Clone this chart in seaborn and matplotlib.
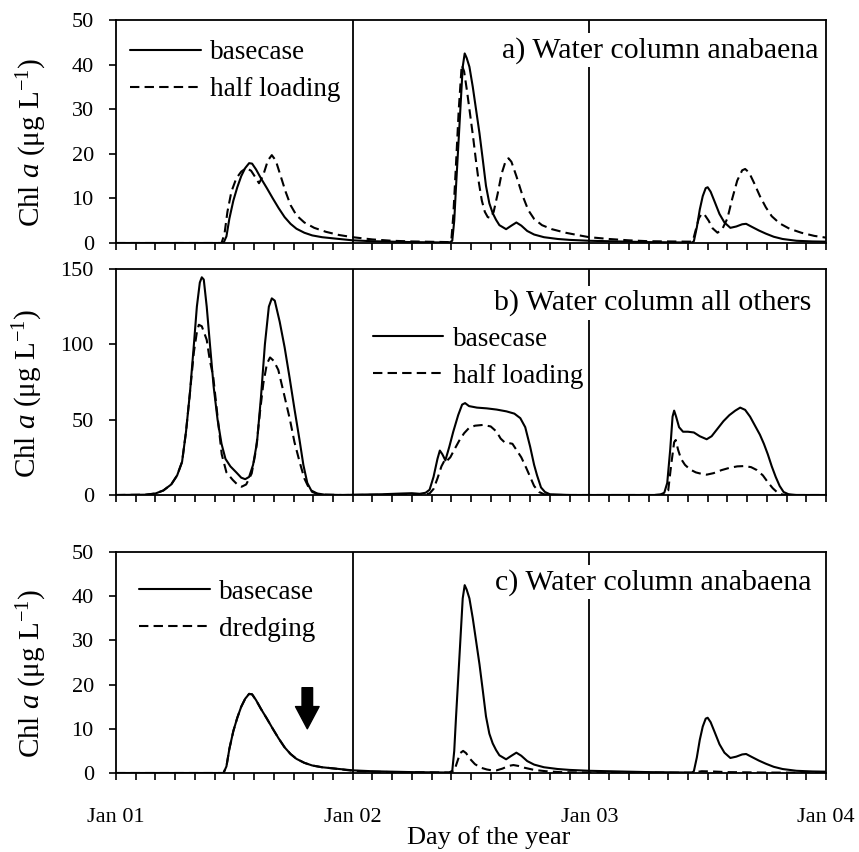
import matplotlib
matplotlib.use("Agg")
import matplotlib.pyplot as plt
import numpy as np
import pandas as pd
import seaborn as sns

# ---------------- data (x in months since Jan 01) ----------------
base_x = [0, 5.45, 5.6, 5.75, 5.95, 6.15, 6.35, 6.55, 6.75, 6.9, 7.1, 7.35, 7.65, 7.95, 8.25, 8.55,
          8.85, 9.15, 9.55, 9.95, 10.45, 11.1, 12.0, 13, 14, 15, 16.9,
          17.05, 17.15, 17.24, 17.41, 17.58, 17.68, 17.78, 17.92, 18.09, 18.26, 18.43, 18.6, 18.76,
          18.93, 19.1, 19.27, 19.44, 19.78, 20.05, 20.3, 20.55, 20.85, 21.2, 21.7, 22.4, 23, 24,
          25, 26, 27, 29.2,
          29.3, 29.45, 29.6, 29.75, 29.9, 30.0, 30.15, 30.35, 30.6, 30.85, 31.15, 31.45, 31.75, 31.95,
          32.25, 32.6, 32.95, 33.35, 33.8, 34.5, 35.3, 36]
base_y = [0, 0, 1.5, 5.5, 9.5, 12.5, 15, 16.8, 17.9, 17.8, 16.5, 14.5, 12.3, 10, 7.8, 5.8,
          4.3, 3.2, 2.3, 1.7, 1.3, 1.0, 0.6, 0.4, 0.3, 0.2, 0.1,
          0.5, 5, 12.6, 26, 39.5, 42.5, 41.5, 39.5, 35, 29.8, 24.6, 18.6, 12.8,
          8.9, 6.7, 5.2, 4.0, 3.1, 3.9, 4.6, 3.9, 2.7, 1.9, 1.3, 0.9, 0.7, 0.5,
          0.4, 0.3, 0.2, 0.1,
          0.4, 3.5, 7.5, 10.5, 12.3, 12.5, 11.5, 9.3, 6.5, 4.6, 3.4, 3.7, 4.2, 4.3,
          3.6, 2.8, 2.1, 1.4, 0.9, 0.5, 0.35, 0.3]

half_x = [0, 5.35, 5.5, 5.65, 5.85, 6.1, 6.35, 6.6, 6.85, 7.1, 7.25, 7.45, 7.7, 7.9, 8.1, 8.35,
          8.6, 8.85, 9.15, 9.55, 10.05, 10.65, 11.3, 12, 13, 14, 15, 16.9,
          17.0, 17.1, 17.22, 17.38, 17.53, 17.65, 17.8, 17.95, 18.1, 18.25, 18.4, 18.55, 18.7,
          18.85, 19.0, 19.15, 19.35, 19.55, 19.75, 19.9, 20.05, 20.3, 20.6, 20.9, 21.2, 21.6,
          22.1, 22.8, 23.5, 24, 25, 26, 27, 29.1,
          29.25, 29.4, 29.55, 29.7, 29.85, 30.05, 30.25, 30.5, 30.75, 31.0, 31.25, 31.5, 31.75, 31.9,
          32.1, 32.35, 32.65, 32.95, 33.25, 33.65, 34.15, 34.75, 35.4, 36]
half_y = [0, 0, 2, 7, 11.5, 14.5, 16, 16.8, 16.2, 14.5, 13.4, 15, 18.5, 19.7, 18.5, 15,
          11.5, 8.5, 6.2, 4.6, 3.4, 2.5, 1.8, 1.3, 0.8, 0.5, 0.35, 0.2,
          0.5, 6, 16, 30, 39.9, 38.5, 34, 29, 24, 18.5, 13.5, 9.5, 7,
          5.8, 5.6, 7, 11, 15.5, 18.3, 19, 18.2, 15, 10.8, 7.4, 5.4, 4,
          3.1, 2.3, 1.7, 1.3, 0.9, 0.6, 0.4, 0.3,
          0.5, 3, 5.5, 6.6, 6.3, 5, 3.3, 2.3, 3.2, 5.5, 10, 14, 16.3, 16.6,
          15.8, 13.5, 10.5, 8, 6, 4.4, 3.2, 2.3, 1.6, 1.2]

others_base_x = [0, 1.5, 2.0, 2.4, 2.8, 3.1, 3.35, 3.55, 3.75, 3.95, 4.1, 4.25, 4.35, 4.45, 4.6,
                 4.75, 4.95, 5.15, 5.35, 5.55, 5.8, 6.1, 6.35, 6.55, 6.75, 6.95, 7.15, 7.35, 7.55,
                 7.75, 7.9, 8.05, 8.3, 8.55, 8.8, 9.05, 9.3, 9.5, 9.7, 9.9, 10.2, 10.6, 11.5,
                 12.5, 13.5, 14.5, 15, 15.4, 15.7, 15.9, 16.1, 16.3, 16.42, 16.55, 16.7, 16.9, 17.1,
                 17.35, 17.55, 17.7, 17.9, 18.3, 18.8, 19.3, 19.8, 20.2, 20.5, 20.75, 21.0, 21.2,
                 21.35, 21.55, 21.75, 22.0, 23, 27.3,
                 27.6, 27.8, 27.95, 28.1, 28.22, 28.3, 28.4, 28.55, 28.75, 29.0, 29.3, 29.6, 29.95,
                 30.2, 30.5, 30.8, 31.1, 31.4, 31.65, 31.9, 32.15, 32.4, 32.65, 32.85, 33.05, 33.25,
                 33.45, 33.65, 33.85, 34.1, 34.5, 36]
others_base_y = [0, 0.2, 1, 3, 7, 13, 22, 42, 68, 100, 125, 141, 144.5, 143, 125,
                 102, 72, 50, 34, 24, 19, 15, 11.5, 10.5, 12, 20, 35, 65, 100,
                 125, 130.5, 129, 115, 98, 78, 57, 37, 20, 8, 3, 1, 0.2, 0,
                 0.3, 0.5, 1, 1.2, 0.8, 1.5, 3.5, 12, 24, 29.5, 27, 23, 32, 42,
                 53, 60, 61, 59, 58, 57.5, 56.7, 55.5, 54, 51, 45, 32, 20,
                 13, 5, 2, 0.5, 0, 0,
                 0.3, 1.5, 8, 30, 52, 56, 52, 45, 42, 42, 41.5, 39, 37,
                 39, 44, 49, 53, 56, 58, 56.5, 52, 46, 40, 34, 27, 19,
                 12, 6, 2, 0.5, 0, 0]

others_half_x = [0, 1.5, 2.0, 2.4, 2.8, 3.1, 3.35, 3.55, 3.75, 3.95, 4.1, 4.2, 4.35, 4.6, 4.75,
                 4.93, 5.15, 5.36, 5.6, 5.92, 6.15, 6.37, 6.6, 6.88, 7.1, 7.3, 7.47, 7.65, 7.81,
                 8.0, 8.23, 8.5, 8.82, 9.05, 9.33, 9.55, 9.75, 9.95, 10.3, 11.5,
                 15.5, 15.9, 16.1, 16.3, 16.5, 16.7, 16.8, 16.95, 17.15, 17.4, 17.65, 17.9, 18.2,
                 18.6, 19.0, 19.3, 19.5, 19.7, 19.9, 20.1, 20.3, 20.55, 20.8, 21.0, 21.2, 21.45,
                 21.7, 22.2, 27.3,
                 27.8, 28.0, 28.15, 28.3, 28.38, 28.5, 28.65, 28.85, 29.1, 29.4, 29.7, 29.95, 30.3,
                 30.7, 31.1, 31.5, 31.85, 32.2, 32.5, 32.8, 33.05, 33.3, 33.55, 33.8, 34.2, 36]
others_half_y = [0, 0.2, 1, 3, 7, 13, 22, 42, 68, 95, 108, 113, 112, 103, 90,
                 78.5, 52, 27, 15, 10, 7, 5.5, 7, 14.3, 30, 55, 74, 87, 91.3,
                 89, 83, 68, 50, 35, 21, 11, 5.5, 2, 0.3, 0,
                 0.2, 1, 4, 11, 19, 24, 23, 25, 30, 36, 41, 44.5, 46,
                 46.5, 45.5, 42, 37.5, 35, 34.5, 34, 30, 25, 18, 12, 6, 2,
                 0.5, 0, 0,
                 0.3, 3, 20, 35, 36.5, 30, 24, 20, 17, 15, 14, 13.5, 14.5,
                 16.5, 18, 19, 19.2, 18.5, 16.5, 13, 8.5, 4.5, 1.5, 0.3, 0, 0]

dredge_x = [0, 5.45, 5.6, 5.75, 5.95, 6.15, 6.35, 6.55, 6.75, 6.9, 7.1, 7.35, 7.65, 7.95, 8.25,
            8.55, 8.85, 9.15, 9.55, 9.95, 10.45, 11.1, 12.0, 13, 14, 16.9,
            17.15, 17.3, 17.45, 17.6, 17.75, 17.95, 18.2, 18.5, 18.8, 19.05, 19.3, 19.6, 19.9,
            20.15, 20.4, 20.7, 21.2, 21.8, 22.5, 24, 29.3,
            29.4, 29.7, 30.2, 31, 32, 33, 36]
dredge_y = [0, 0, 1.5, 5.5, 9.5, 12.5, 15, 16.8, 17.9, 17.8, 16.5, 14.5, 12.3, 10, 7.8,
            5.8, 4.3, 3.2, 2.3, 1.7, 1.3, 1.0, 0.5, 0.3, 0.2, 0.1,
            0.5, 2.5, 4.5, 5, 4.5, 3.2, 2, 1.2, 0.8, 0.6, 0.6, 1.0, 1.6,
            1.8, 1.6, 1.2, 0.7, 0.4, 0.2, 0.1, 0.05,
            0.2, 0.4, 0.35, 0.2, 0.15, 0.1, 0.05]

month_ticks = list(range(0, 37))
year_labels = {0: "Jan 01", 12: "Jan 02", 24: "Jan 03", 36: "Jan 04"}
year_lines = [12, 24]
arrow_x, arrow_tail, arrow_tip = 9.7, 19.3, 10.0

# ---------------- style ----------------
sns.set_theme(style="ticks")
plt.rcParams["font.family"] = ["Liberation Serif", "DejaVu Serif"]
plt.rcParams["mathtext.fontset"] = "custom"
plt.rcParams["mathtext.rm"] = "Liberation Serif"
plt.rcParams["mathtext.it"] = "Liberation Serif:italic"

fig = plt.figure(figsize=(8.59, 8.52), dpi=100)
W, H = 859, 852
left, right = 116, 826
boxes = [(20, 243), (269, 495), (552, 773)]
axes = []
for top, bot in boxes:
    ax = fig.add_axes([left / W, 1 - bot / H, (right - left) / W, (bot - top) / H])
    axes.append(ax)

solid = dict(color="black", lw=1.5, estimator=None, sort=False)
dash = dict(color="black", lw=1.5, estimator=None, sort=False, linestyle=(0, (4.5, 2.5)))

panels = [
    (axes[0], (base_x, base_y, "basecase"), (half_x, half_y, "half loading"), 50, 10,
     "a) Water column anabaena", (0.02, 0.91), (0.989, 0.865), -0.094),
    (axes[1], (others_base_x, others_base_y, "basecase"), (others_half_x, others_half_y, "half loading"),
     150, 50, "b) Water column all others", (0.362, 0.745), (0.98, 0.85), -0.1),
    (axes[2], (base_x, base_y, "basecase"), (dredge_x, dredge_y, "dredging"), 50, 10,
     "c) Water column anabaena", (0.033, 0.875), (0.98, 0.864), -0.094),
]

for ax, s1, s2, ymax, ystep, title, legpos, titlepos, ylab_x in panels:
    sns.lineplot(x=s1[0], y=s1[1], ax=ax, label=s1[2], **solid)
    sns.lineplot(x=s2[0], y=s2[1], ax=ax, label=s2[2], **dash)
    for xl in year_lines:
        ax.axvline(xl, color="black", lw=1.3, zorder=1)
    ax.set_xlim(0, 36)
    ax.set_ylim(0, ymax)
    ax.set_yticks(np.arange(0, ymax + 1, ystep))
    ax.set_xticks(month_ticks)
    ax.set_xticklabels([year_labels.get(m, "") for m in month_ticks])
    ax.tick_params(axis="both", direction="out", length=5, width=1.2, color="black",
                   labelsize=16, labelcolor="black")
    ax.tick_params(axis="x", pad=20)
    ax.tick_params(axis="y", pad=11)
    for sp in ax.spines.values():
        sp.set_visible(True)
        sp.set_color("black")
        sp.set_linewidth(1.3)
    ax.set_ylabel("Chl $a$ (μg L$^{-1}$)", fontsize=21, color="black")
    ax.yaxis.set_label_coords(ylab_x, 0.45)
    ax.set_xlabel("")
    ax.text(titlepos[0], titlepos[1], title, transform=ax.transAxes, ha="right", va="center",
            fontsize=21.5, color="black", zorder=5,
            bbox=dict(boxstyle="square,pad=0.12", facecolor="white", edgecolor="none"))
    leg = ax.legend(loc="upper left", bbox_to_anchor=legpos, frameon=False, fontsize=19.5,
                    handlelength=2.6, handletextpad=0.35, labelspacing=0.45,
                    borderpad=0, borderaxespad=0)
    for t in leg.get_texts():
        t.set_color("black")

for ax in axes[:2]:
    ax.set_xticklabels([])

axes[2].set_xlabel("Day of the year", fontsize=19, color="black")
axes[2].xaxis.set_label_coords(0.525, -0.24)
axes[2].annotate("", xy=(arrow_x, arrow_tip), xytext=(arrow_x, arrow_tail),
                 arrowprops=dict(arrowstyle="simple,head_width=0.85,head_length=0.8,tail_width=0.38",
                                 color="black", shrinkA=0, shrinkB=0, mutation_scale=20))

fig.savefig("out.png", dpi=100, facecolor="white")
